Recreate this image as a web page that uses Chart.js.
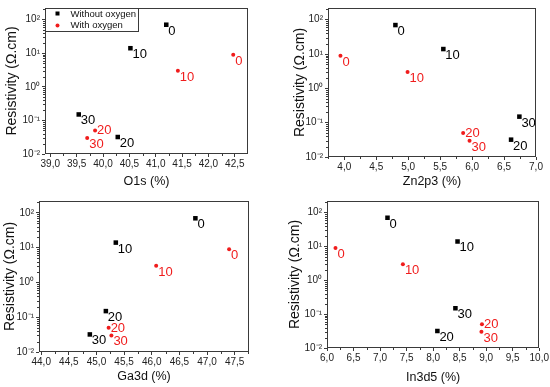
<!DOCTYPE html>
<html>
<head>
<meta charset="utf-8">
<script src="https://cdn.jsdelivr.net/npm/chart.js@4.4.1/dist/chart.umd.min.js"></script>
<style>
html,body{margin:0;padding:0;background:#fff;}
body{width:550px;height:387px;position:relative;overflow:hidden;}
canvas{position:absolute;}
</style>
</head>
<body>
<canvas id="c1" width="275" height="193" style="left:0;top:0"></canvas>
<canvas id="c2" width="275" height="193" style="left:275px;top:0"></canvas>
<canvas id="c3" width="275" height="194" style="left:0;top:193px"></canvas>
<canvas id="c4" width="275" height="194" style="left:275px;top:193px"></canvas>
<script>
// ---- data ----
const seriesNames = ['Without oxygen', 'With oxygen'];
const pointLabels = ['0', '10', '20', '30'];
const resNoO2 = [70, 14, 0.032, 0.15];
const resO2 = [9, 3, 0.05, 0.03];
const resNoO2Ga = [70, 14, 0.15, 0.032];

const o1sNoO2 = [41.2, 40.52, 40.28, 39.54];
const o1sO2 = [42.47, 41.42, 39.85, 39.7];
const zn2p3NoO2 = [4.80, 5.55, 6.61, 6.74];
const zn2p3O2 = [3.94, 4.99, 5.86, 5.96];
const ga3dNoO2 = [46.79, 45.35, 45.17, 44.88];
const ga3dO2 = [47.40, 46.08, 45.22, 45.27];
const in3d5NoO2 = [7.14, 8.46, 8.08, 8.42];
const in3d5O2 = [6.16, 7.43, 8.92, 8.91];

const xTicksO1s = [39.0, 39.5, 40.0, 40.5, 41.0, 41.5, 42.0, 42.5];
const xTicksZn = [4.0, 4.5, 5.0, 5.5, 6.0, 6.5, 7.0];
const xTicksGa = [44.0, 44.5, 45.0, 45.5, 46.0, 46.5, 47.0, 47.5];
const xTicksIn = [6.0, 6.5, 7.0, 7.5, 8.0, 8.5, 9.0, 9.5, 10.0];
const yTicks = [0.01, 0.1, 1, 10, 100];

// ---- helpers ----
const FONT = "'Liberation Sans', Arial, sans-serif";
const RED = '#f01c1c';
const AXIS = '#3a3a3a';
const SUP = {'-':'\u207B','0':'\u2070','1':'\u00B9','2':'\u00B2','3':'\u00B3'};
function supLabel(v) {
  const e = Math.round(Math.log10(v));
  return '10' + String(e).split('').map(c => SUP[c]).join('');
}
function pts(xs, ys) { return xs.map((x, i) => ({x: x, y: ys[i]})); }

const framePlugin = {
  id: 'frame',
  afterDraw(chart) {
    const {ctx, chartArea: a, scales} = chart;
    ctx.save();
    ctx.strokeStyle = AXIS;
    ctx.lineWidth = 1;
    ctx.strokeRect(Math.round(a.left) + 0.5, Math.round(a.top) + 0.5,
                   Math.round(a.right - a.left) - 1, Math.round(a.bottom - a.top) - 1);
    ctx.beginPath();
    const xs = scales.x, ys = scales.y;
    const xt = xs.ticks.map(t => t.value);
    const half = (xt[1] - xt[0]) / 2;
    xt.forEach(v => {
      [v - half, v + half].forEach(m => {
        if (m > xs.min && m < xs.max && xt.indexOf(m) < 0) {
          const px = Math.round(xs.getPixelForValue(m)) + 0.5;
          ctx.moveTo(px, a.bottom); ctx.lineTo(px, a.bottom + 2);
        }
      });
    });
    for (let d = -2; d <= 2; d++) {
      for (let k = 2; k <= 9; k++) {
        const v = k * Math.pow(10, d);
        if (v > ys.min && v < ys.max) {
          const py = Math.round(ys.getPixelForValue(v)) + 0.5;
          ctx.moveTo(a.left, py); ctx.lineTo(a.left - 2, py);
        }
      }
    }
    ctx.stroke();
    ctx.restore();
  }
};

const labelPlugin = {
  id: 'ptlabels',
  afterDatasetsDraw(chart) {
    const {ctx} = chart;
    ctx.save();
    ctx.font = '13px ' + FONT;
    ctx.textAlign = 'left';
    ctx.textBaseline = 'alphabetic';
    chart.data.datasets.forEach((ds, di) => {
      const meta = chart.getDatasetMeta(di);
      ctx.fillStyle = ds.labelColor;
      meta.data.forEach((el, i) => {
        const dy = (di === 1 && i === 2) ? 4 : 10;
        ctx.fillText(pointLabels[i], el.x + 2, el.y + dy);
      });
    });
    ctx.restore();
  }
};

const legendPlugin = {
  id: 'boxlegend',
  afterDraw(chart, args, opts) {
    if (!opts.show) return;
    const {ctx, chartArea: a} = chart;
    ctx.save();
    ctx.strokeStyle = AXIS;
    ctx.lineWidth = 1;
    const l = Math.round(a.left) + 0.5, t = Math.round(a.top) + 0.5;
    ctx.strokeRect(l, t, 93, 23);
    ctx.fillStyle = '#000';
    ctx.fillRect(l + 10, t + 3, 4, 4);
    ctx.fillStyle = RED;
    ctx.beginPath(); ctx.arc(l + 12, t + 17, 2, 0, Math.PI * 2); ctx.fill();
    ctx.fillStyle = '#111';
    ctx.font = '9.5px ' + FONT;
    ctx.textBaseline = 'middle';
    ctx.fillText(chart.data.datasets[0].label, l + 25, t + 5.5);
    ctx.fillText(chart.data.datasets[1].label, l + 25, t + 17);
    ctx.restore();
  }
};

function makeChart(id, cfg) {
  const tickFont = {family: FONT, size: 10};
  new Chart(document.getElementById(id), {
    type: 'scatter',
    data: {
      datasets: [
        {label: seriesNames[0], data: pts(cfg.xNo, cfg.yNo), pointStyle: 'rect', pointRadius: 3.2,
         backgroundColor: '#000', borderColor: '#000', borderWidth: 0, labelColor: '#000'},
        {label: seriesNames[1], data: pts(cfg.xO, cfg.yO), pointStyle: 'circle', pointRadius: 2,
         backgroundColor: RED, borderColor: RED, borderWidth: 0, labelColor: RED}
      ]
    },
    options: {
      responsive: false,
      animation: false,
      devicePixelRatio: 1,
      layout: {padding: {left: 0, top: cfg.padTop, right: cfg.padRight, bottom: 0}},
      plugins: {legend: {display: false}, tooltip: {enabled: false}, boxlegend: {show: !!cfg.legend}},
      scales: {
        x: {
          type: 'linear', min: cfg.xMin, max: cfg.xMax,
          afterBuildTicks: s => { s.ticks = cfg.xTicks.map(v => ({value: v})); },
          afterFit: s => { s.height = cfg.xH; },
          ticks: {callback: v => Number(v).toFixed(1).replace('.', ','), font: tickFont, color: '#222',
                  maxRotation: 0, autoSkip: false, padding: 1},
          grid: {drawOnChartArea: false, tickLength: 3, color: AXIS},
          border: {display: false},
          title: {display: true, text: cfg.xTitle, font: {family: FONT, size: 12.5}, color: '#111',
                  padding: {top: 0, bottom: cfg.xTitlePad}}
        },
        y: {
          type: 'logarithmic', min: 0.01, max: 220,
          afterBuildTicks: s => { s.ticks = yTicks.map(v => ({value: v})); },
          afterFit: s => { s.width = cfg.yW; },
          ticks: {callback: v => supLabel(v), font: tickFont, color: '#222', padding: 2},
          grid: {drawOnChartArea: false, tickLength: 3, color: AXIS},
          border: {display: false},
          title: {display: true, text: 'Resistivity (\u03A9.cm)', font: {family: FONT, size: 14}, color: '#111',
                  padding: {top: cfg.yTitlePad, bottom: 0}}
        }
      }
    },
    plugins: [framePlugin, labelPlugin, legendPlugin]
  });
}

makeChart('c1', {xNo: o1sNoO2, yNo: resNoO2, xO: o1sO2, yO: resO2, xMin: 38.9, xMax: 42.75,
  xTicks: xTicksO1s, xTitle: 'O1s (%)', padTop: 8, padRight: 27, xH: 39, yW: 45, xTitlePad: 4, yTitlePad: 3.5, legend: true});
makeChart('c2', {xNo: zn2p3NoO2, yNo: resNoO2, xO: zn2p3O2, yO: resO2, xMin: 3.745, xMax: 7.0,
  xTicks: xTicksZn, xTitle: 'Zn2p3 (%)', padTop: 7, padRight: 14, xH: 36, yW: 53, xTitlePad: 4, yTitlePad: 16.5});
makeChart('c3', {xNo: ga3dNoO2, yNo: resNoO2Ga, xO: ga3dO2, yO: resO2, xMin: 43.96, xMax: 47.76,
  xTicks: xTicksGa, xTitle: 'Ga3d (%)', padTop: 4, padRight: 26, xH: 35, yW: 39, xTitlePad: 3, yTitlePad: 1.5});
makeChart('c4', {xNo: in3d5NoO2, yNo: resNoO2, xO: in3d5O2, yO: resO2, xMin: 6.0, xMax: 10.0,
  xTicks: xTicksIn, xTitle: 'In3d5 (%)', padTop: 4, padRight: 8, xH: 39, yW: 52, xTitlePad: 2, yTitlePad: 11.5});
</script>
</body>
</html>
